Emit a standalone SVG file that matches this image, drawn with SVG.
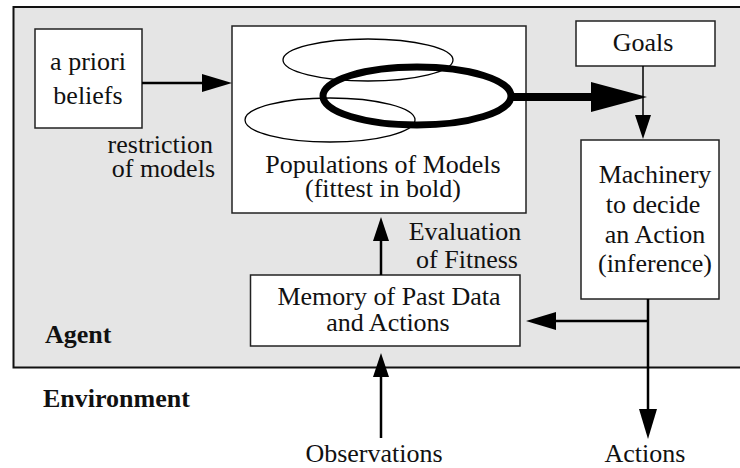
<svg xmlns="http://www.w3.org/2000/svg" width="740" height="468" viewBox="0 0 740 468">
<defs>
<style>
.box{fill:#fff;stroke:#222;stroke-width:1.5}
.t{font-family:"Liberation Serif","Times New Roman",serif;font-size:26px;fill:#111}
.b{font-family:"Liberation Serif","Times New Roman",serif;font-size:26px;font-weight:bold;fill:#111}
.ln{stroke:#000;stroke-width:2.5;fill:none}
.e{fill:none;stroke:#000;stroke-width:1.3}
</style>
<marker id="ah" markerUnits="userSpaceOnUse" markerWidth="30" markerHeight="20" refX="0" refY="9" orient="auto" viewBox="0 0 30 18"><path d="M0,0 L30,9 L0,18 Z" fill="#000"/></marker>
<marker id="ahs" markerUnits="userSpaceOnUse" markerWidth="24" markerHeight="18" refX="0" refY="8" orient="auto" viewBox="0 0 24 16"><path d="M0,0 L24,8 L0,16 Z" fill="#000"/></marker>
<marker id="ahb" markerUnits="userSpaceOnUse" markerWidth="56" markerHeight="32" refX="0" refY="15" orient="auto" viewBox="0 0 56 30"><path d="M0,0 L56,15 L0,30 Z" fill="#000"/></marker>
</defs>
<rect width="740" height="468" fill="#fff"/>
<g id="agent">
<path d="M742,7 H13.5 V367.5 H742" fill="#e5e5e5" stroke="#111" stroke-width="2"/>
<text class="b" x="45" y="343">Agent</text>
</g>
<g id="environment"><text class="b" x="43" y="407">Environment</text></g>
<g id="apriori">
<rect class="box" x="35" y="29" width="107" height="99"/>
<text class="t" x="88" y="70" text-anchor="middle">a priori</text>
<text class="t" x="88" y="104" text-anchor="middle">beliefs</text>
</g>
<g id="populations">
<rect class="box" x="232" y="26" width="294" height="187"/>
<ellipse class="e" cx="368" cy="60" rx="85" ry="21"/>
<ellipse class="e" cx="330" cy="120" rx="85" ry="22"/>
<ellipse cx="417" cy="96" rx="94" ry="29" fill="none" stroke="#000" stroke-width="7"/>
<text class="t" x="383" y="173" text-anchor="middle">Populations of Models</text>
<text class="t" x="383" y="197" text-anchor="middle">(fittest in bold)</text>
</g>
<g id="goals">
<rect class="box" x="576" y="21" width="139" height="45"/>
<text class="t" x="643" y="51" text-anchor="middle">Goals</text>
</g>
<g id="machinery">
<rect class="box" x="581" y="140" width="138" height="159"/>
<text class="t" x="655" y="183" text-anchor="middle">Machinery</text>
<text class="t" x="653" y="213" text-anchor="middle">to decide</text>
<text class="t" x="655" y="243" text-anchor="middle">an Action</text>
<text class="t" x="655" y="272" text-anchor="middle">(inference)</text>
</g>
<g id="memory">
<rect class="box" x="250.5" y="275" width="269.5" height="71"/>
<text class="t" x="389" y="305" text-anchor="middle">Memory of Past Data</text>
<text class="t" x="388" y="331" text-anchor="middle">and Actions</text>
</g>
<g id="labels">
<text class="t" x="213" y="153" text-anchor="end">restriction</text>
<text class="t" x="215" y="177" text-anchor="end">of models</text>
<text class="t" x="465" y="240" text-anchor="middle">Evaluation</text>
<text class="t" x="467" y="268" text-anchor="middle">of Fitness</text>
<text class="t" x="374" y="462" text-anchor="middle">Observations</text>
<text class="t" x="645" y="462" text-anchor="middle">Actions</text>
</g>
<g id="connectors">
<line class="ln" x1="142" y1="83" x2="202" y2="83" marker-end="url(#ah)"/>
<line x1="511" y1="97" x2="591" y2="97" stroke="#000" stroke-width="8" marker-end="url(#ahb)"/>
<line x1="643" y1="66" x2="643" y2="115" stroke="#000" stroke-width="1.5" marker-end="url(#ahs)"/>
<line class="ln" x1="381" y1="275" x2="381" y2="241" marker-end="url(#ahs)"/>
<line class="ln" x1="381" y1="438" x2="381" y2="377" marker-end="url(#ahs)"/>
<line class="ln" x1="648" y1="299" x2="648" y2="409" marker-end="url(#ah)"/>
<line class="ln" x1="648" y1="321" x2="556" y2="321" marker-end="url(#ah)"/>
</g>
</svg>
